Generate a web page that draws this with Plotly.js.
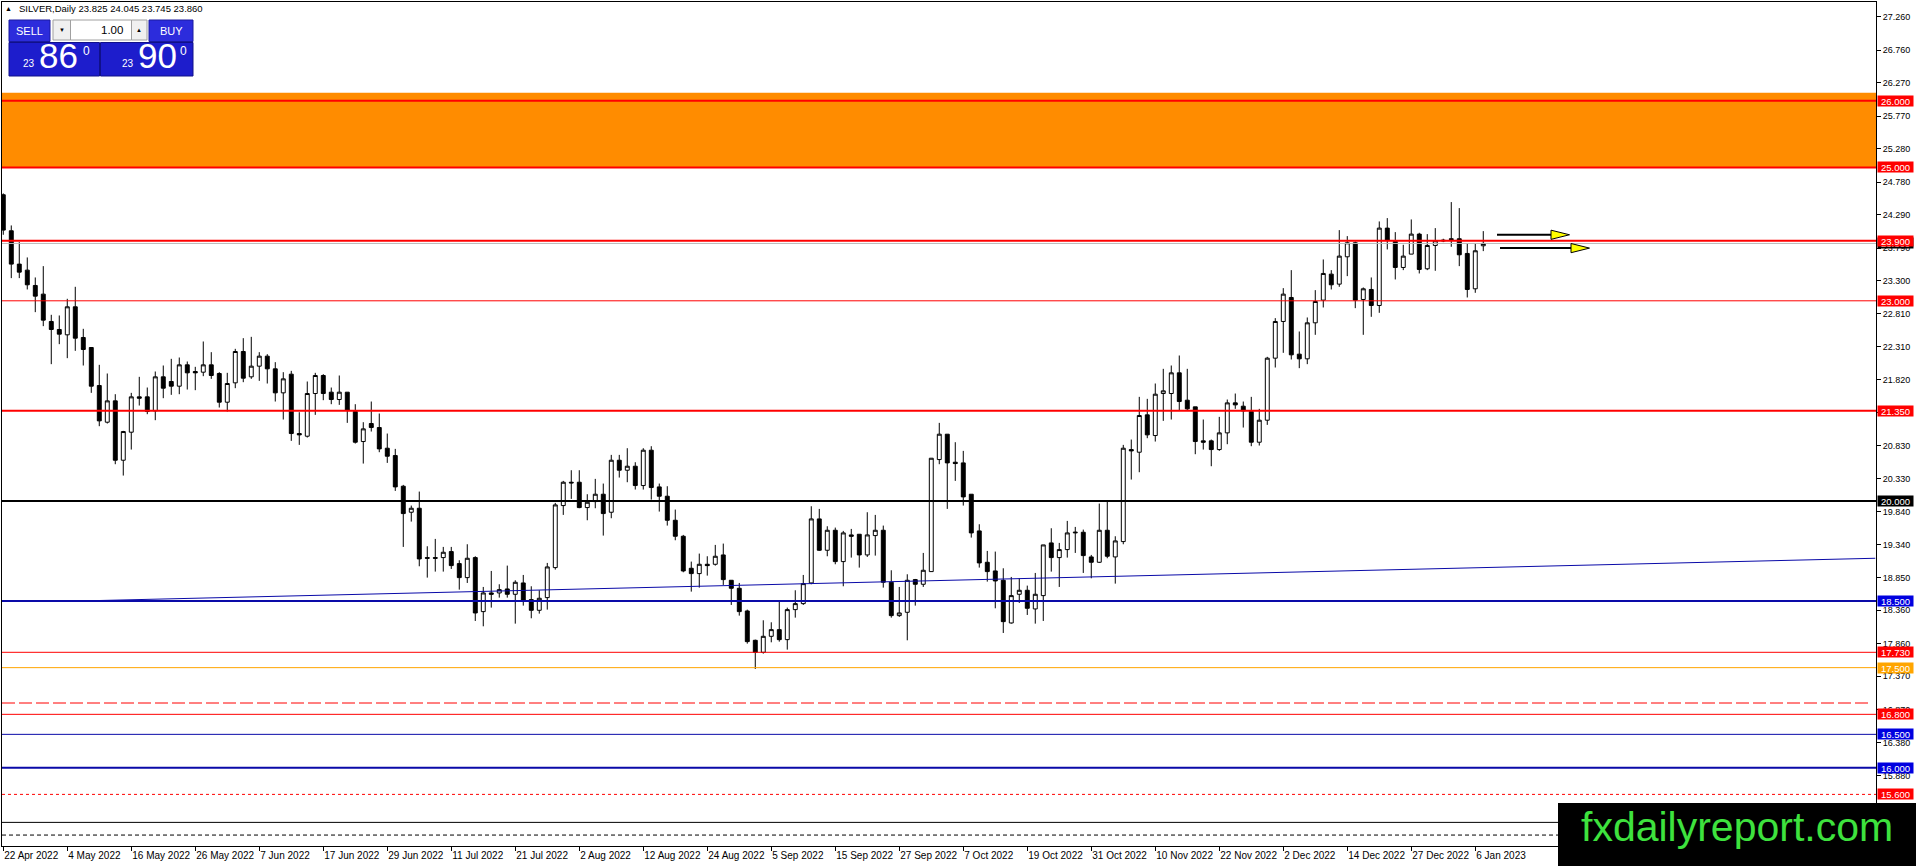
<!DOCTYPE html>
<html><head><meta charset="utf-8">
<script src="https://cdn.plot.ly/plotly-3.0.1.min.js"></script>
<style>html,body{margin:0;padding:0;background:#fff;overflow:hidden}#chart{width:1916px;height:866px}</style>
</head><body><div id="chart"></div>
<script>
// ---------- DATA ----------
const symbolTitle = 'SILVER,Daily';
const lastOHLC = [23.825, 24.045, 23.745, 23.860];
const openP = [24.59,24.05,23.55,23.46,23.23,23.10,22.69,22.57,22.49,22.91,22.45,22.30,21.73,21.18,21.50,20.61,21.03,21.56,21.56,21.35,21.86,21.79,21.72,22.04,21.94,21.93,22.04,21.91,21.48,21.77,
22.24,21.86,22.02,22.17,21.98,21.62,21.90,21.01,20.97,21.61,21.88,21.63,21.52,21.63,21.34,20.89,21.16,21.10,20.79,20.68,20.22,19.83,19.89,19.15,19.15,19.15,19.24,19.06,18.85,19.15,
18.34,18.62,18.62,18.68,18.60,18.77,18.52,18.36,18.55,19.00,19.93,20.28,20.28,19.90,19.99,20.10,19.83,20.61,20.46,20.52,20.23,20.76,20.21,20.07,19.71,19.47,18.99,18.91,19.05,19.05,
19.19,18.81,18.69,18.35,17.91,17.73,17.97,18.07,17.92,18.37,18.46,18.77,19.73,19.26,19.56,19.09,19.49,19.50,19.19,19.48,19.56,18.78,18.28,18.33,18.82,18.75,18.94,20.62,21.00,20.58,
20.57,20.10,19.55,19.08,18.95,18.81,18.17,18.60,18.66,18.38,18.58,19.37,19.15,19.27,19.52,19.53,19.16,19.08,19.56,19.16,19.39,20.77,20.73,21.29,20.98,21.61,21.61,21.92,21.51,21.41,
20.90,20.90,20.77,21.02,21.47,21.42,21.34,20.88,21.21,22.14,22.69,23.05,22.20,22.13,22.67,23.01,23.40,23.25,23.66,23.87,23.02,23.17,22.93,24.09,23.89,23.50,23.70,24.00,23.48,23.83,
23.91,23.93,23.93,23.71,23.18,23.825];
const highP = [24.61,24.13,23.88,23.65,23.35,23.52,22.79,22.78,23.03,23.21,22.58,22.30,22.04,21.91,21.60,21.05,21.62,21.86,21.70,21.94,22.03,22.13,22.15,22.09,22.01,22.39,22.23,21.93,21.92,22.28,
22.44,22.46,22.23,22.20,22.08,21.93,21.95,21.33,21.79,21.92,21.90,21.70,21.88,21.63,21.45,21.18,21.49,21.31,21.01,20.78,20.24,19.93,20.14,19.32,19.43,19.31,19.31,19.11,19.35,19.17,
18.71,18.95,18.75,19.03,18.81,18.89,18.72,18.66,19.07,19.97,20.30,20.46,20.46,20.10,20.33,20.26,20.69,20.69,20.79,20.58,20.79,20.82,20.26,20.22,19.87,19.49,19.09,19.21,19.17,19.34,
19.36,18.81,18.77,18.37,17.92,18.21,18.18,18.50,18.40,18.66,18.89,19.92,19.88,19.62,19.60,19.55,19.58,19.50,19.83,19.79,19.63,18.96,18.71,18.90,18.83,19.22,20.64,21.17,21.00,20.88,
20.75,20.10,19.65,19.25,19.24,18.99,18.86,18.84,18.73,18.92,19.34,19.59,19.37,19.70,19.61,19.57,19.19,19.96,20.01,19.47,20.84,20.92,21.56,21.53,21.76,21.98,22.03,22.18,21.98,21.41,
21.22,20.92,21.26,21.52,21.61,21.49,21.56,21.38,22.16,22.74,23.19,23.46,22.54,22.75,23.16,23.62,23.46,24.06,23.97,23.89,23.20,23.35,24.19,24.24,24.03,23.84,24.22,24.02,24.00,24.09,
23.93,24.48,24.39,23.86,23.86,24.045];
const lowP = [23.99,23.34,23.34,23.17,22.83,22.62,22.05,22.35,22.14,22.25,22.03,21.62,21.12,21.16,20.55,20.38,20.77,21.43,21.30,21.21,21.54,21.59,21.60,21.67,21.66,21.87,21.83,21.40,21.34,21.69,
21.78,21.83,21.80,21.76,21.49,21.22,20.90,20.84,20.95,21.29,21.51,21.45,21.44,21.17,20.86,20.56,21.04,20.73,20.57,20.15,19.31,19.69,19.02,18.85,18.94,18.94,18.98,18.67,18.77,18.20,
18.12,18.40,18.55,18.55,18.16,18.43,18.24,18.31,18.37,18.97,19.79,20.03,19.89,19.71,19.89,19.48,19.74,20.35,20.28,20.17,20.17,20.02,19.84,19.63,19.41,18.93,18.64,18.70,18.88,19.03,
18.74,18.44,18.28,17.86,17.48,17.71,17.88,17.89,17.77,18.25,18.44,18.75,19.25,19.17,19.05,18.72,19.15,19.00,19.16,19.18,18.70,18.25,18.26,17.91,18.43,18.71,18.94,20.55,19.88,20.30,
19.93,19.45,19.00,18.79,18.39,18.02,18.16,18.47,18.29,18.16,18.20,18.94,18.71,19.15,19.22,18.92,18.84,19.07,19.14,18.76,19.35,20.32,20.43,20.94,20.89,21.20,21.22,21.35,21.35,20.70,
20.77,20.52,20.75,20.85,21.38,21.10,20.82,20.83,21.14,22.00,22.22,22.12,21.99,22.05,22.49,22.90,23.17,23.21,23.37,22.89,22.49,22.76,22.82,23.77,23.32,23.46,23.70,23.41,23.46,23.45,
23.88,23.81,23.52,23.05,23.12,23.745];
const closeP = [24.06,23.55,23.43,23.24,23.07,22.71,22.57,22.50,22.91,22.44,22.27,21.72,21.20,21.50,20.61,21.04,21.56,21.54,21.34,21.86,21.69,21.72,22.04,21.92,21.92,22.04,21.88,21.48,21.76,22.24,
21.84,22.02,22.17,21.98,21.62,21.83,21.01,20.99,21.61,21.88,21.61,21.52,21.63,21.36,20.88,21.08,21.10,20.78,20.67,20.21,19.81,19.89,19.13,19.14,19.14,19.23,19.03,18.85,19.14,18.32,
18.62,18.60,18.67,18.60,18.78,18.50,18.36,18.54,19.01,19.94,20.28,20.27,19.90,19.98,20.10,19.81,20.61,20.46,20.52,20.23,20.76,20.20,20.07,19.71,19.47,18.95,18.91,19.05,19.03,19.17,
18.82,18.69,18.34,17.89,17.73,17.97,18.07,17.92,18.37,18.46,18.76,19.73,19.26,19.56,19.09,19.52,19.47,19.19,19.49,19.56,18.78,18.28,18.32,18.81,18.75,18.96,20.64,21.00,20.57,20.56,
20.06,19.52,19.07,18.94,18.80,18.19,18.58,18.66,18.39,18.60,19.34,19.15,19.27,19.52,19.53,19.18,19.08,19.56,19.17,19.40,20.79,20.75,21.28,20.99,21.60,21.65,21.92,21.49,21.38,20.89,
20.88,20.77,21.02,21.47,21.44,21.35,20.88,21.21,22.14,22.69,23.10,22.19,22.13,22.67,22.99,23.41,23.24,23.67,23.87,23.01,23.18,22.93,24.09,23.91,23.50,23.67,24.00,23.47,23.83,23.90,
23.90,23.92,23.69,23.17,23.75,23.860];
const barsPerLabel = 8;
const dateLabels = ['22 Apr 2022','4 May 2022','16 May 2022','26 May 2022','7 Jun 2022','17 Jun 2022','29 Jun 2022','11 Jul 2022',
  '21 Jul 2022','2 Aug 2022','12 Aug 2022','24 Aug 2022','5 Sep 2022','15 Sep 2022','27 Sep 2022','7 Oct 2022','19 Oct 2022',
  '31 Oct 2022','10 Nov 2022','22 Nov 2022','2 Dec 2022','14 Dec 2022','27 Dec 2022','6 Jan 2023'];
const priceTicks = [27.26,26.76,26.27,25.77,25.28,24.78,24.29,23.79,23.30,22.81,22.31,21.82,21.33,20.83,20.33,19.84,19.34,18.85,18.36,17.86,17.37,16.87,16.38,15.88];
const levelPrices = [26.000,25.000,23.900,23.000,21.350,20.000,18.500,17.730,17.500,16.800,16.500,16.000,15.600];
const zonePrices = [25.000, 26.120];
const bidPrice = 23.860;
const extraLevels = [16.97, 15.18, 14.99];
const trendBars = [8, 234];
const trendPrices = [18.495, 19.14];
const sellPrice = ['23', '86', '0'];
const buyPrice = ['23', '90', '0'];
const lotSize = '1.00';
const arrowPrices = [23.99, 23.79];

// ---------- STYLES ----------
const FONT = 'Liberation Sans, Arial, sans-serif';
const RED = '#ff0000', BLUE_L = '#0a0aa8', BLUE_B = '#0000e0', ORANGE = '#ffa500';
const levelStyle = [
  {c:RED,w:2,b:RED},{c:RED,w:2,b:RED},{c:RED,w:2,b:RED},{c:RED,w:1,b:RED},{c:RED,w:2,b:RED},
  {c:'#000',w:2,b:'#000'},{c:BLUE_L,w:2,b:BLUE_B},{c:RED,w:1,b:RED},{c:ORANGE,w:1,b:ORANGE},
  {c:RED,w:1,b:RED},{c:BLUE_L,w:1,b:BLUE_B},{c:BLUE_L,w:2,b:BLUE_B},{c:RED,w:1,b:RED,d:'dot'}];
const extraStyle = [{c:RED,w:1,d:'13px,4px',x1:1869},{c:'#000',w:1,d:'solid'},{c:'#000',w:1,d:'4px,3px'}];

const W=1916,H=866,ML=2,MR=40,MT=2,MB=20;
const PW=W-ML-MR, PH=H-MT-MB;
const px=v=>(v-ML)/PW, py=v=>(H-MB-v)/PH;
const X0=-0.16, X1=X0+PW/8;
const Y0=14.826, Y1=27.48;

const idx = openP.map((_,i)=>i);
const traces = [{
  type:'candlestick', x:idx, open:openP, high:highP, low:lowP, close:closeP,
  increasing:{line:{color:'#000',width:1},fillcolor:'#ffffff'},
  decreasing:{line:{color:'#000',width:1},fillcolor:'#000000'},
  whiskerwidth:0, hoverinfo:'skip', showlegend:false
}];

const shapes = [];
shapes.push({type:'rect',xref:'paper',yref:'y',x0:0,x1:1,y0:zonePrices[0],y1:zonePrices[1],fillcolor:'#ff8c00',line:{width:0},layer:'below'});
shapes.push({type:'line',xref:'paper',yref:'y',x0:0,x1:1,y0:bidPrice,y1:bidPrice,line:{color:'#b8b8b8',width:1},layer:'above'});
extraLevels.forEach((p,i)=>{const s=extraStyle[i];
  shapes.push({type:'line',xref:'paper',yref:'y',x0:0,x1:s.x1?px(s.x1):1,y0:p,y1:p,line:{color:s.c,width:s.w,dash:s.d},layer:'above'});});
levelPrices.forEach((p,i)=>{const s=levelStyle[i];
  shapes.push({type:'line',xref:'paper',yref:'y',x0:0,x1:1,y0:p,y1:p,line:{color:s.c,width:s.w,dash:s.d||'solid'},layer:'above'});});
shapes.push({type:'line',xref:'x',yref:'y',x0:trendBars[0],x1:trendBars[1],y0:trendPrices[0],y1:trendPrices[1],line:{color:BLUE_L,width:1},layer:'above'});

// arrows (pixel-placed objects at price levels)
const arrowGeom=[{x0:1497,tip:1551},{x0:1500,tip:1571}];
arrowPrices.forEach((p,i)=>{const g=arrowGeom[i];
  shapes.push({type:'line',xref:'paper',yref:'y',x0:px(g.x0),x1:px(g.tip+2),y0:p,y1:p,line:{color:'#000',width:2}});
  const yc=100.7+(26-p)*66.7;
  shapes.push({type:'path',xref:'paper',yref:'paper',
    path:`M ${px(g.tip)} ${py(yc-4.6)} L ${px(g.tip+18.5)} ${py(yc)} L ${px(g.tip)} ${py(yc+4.6)} Z`,
    fillcolor:'#ffff00',line:{color:'#000',width:1}});
});

// trade panel
function rectPx(x0,y0,x1,y1,fill,line){shapes.push({type:'rect',xref:'paper',yref:'paper',x0:px(x0),x1:px(x1),y0:py(y1),y1:py(y0),fillcolor:fill,line:line||{width:0},layer:'above'});}
rectPx(9,20,50,41.5,'#2c2cdc',{color:'#1a1aa0',width:1});
rectPx(149,20,193,41.5,'#2c2cdc',{color:'#1a1aa0',width:1});
rectPx(53,20,70.5,40,'#f0f0f0',{color:'#a0a0a0',width:1});
rectPx(70.5,20,131.5,40,'#ffffff',{color:'#a0a0a0',width:1});
rectPx(131.5,20,147,40,'#f0f0f0',{color:'#a0a0a0',width:1});
rectPx(9,42.5,99.5,76,'#1d1dcc',{color:'#10108a',width:1});
rectPx(100.5,42.5,193,76,'#1d1dcc',{color:'#10108a',width:1});

const ann = [];
function txt(x,y,t,size,color,xa,fam){ann.push({xref:'paper',yref:'paper',x:px(x),y:py(y),text:t,showarrow:false,xanchor:xa||'center',yanchor:'middle',font:{family:fam||FONT,size:size,color:color}});}
txt(8.5,8.5,'▲',7,'#000');
txt(17,8.5,symbolTitle+' '+lastOHLC.map(v=>v.toFixed(3)).join(' '),9.5,'#000','left');
txt(29.5,31,'SELL',11,'#fff','center','Liberation Sans Narrow, Liberation Sans, Arial');
txt(171,31,'BUY',11,'#fff','center','Liberation Sans Narrow, Liberation Sans, Arial');
txt(61.7,30,'▼',6,'#000');
txt(139.2,30,'▲',6,'#000');
txt(125,30,lotSize,11.5,'#000','right');
txt(29,63.5,sellPrice[0],10,'#fff');
txt(58,55.5,sellPrice[1],35,'#fff');
txt(86,50.5,sellPrice[2],12,'#fff');
txt(128,63.5,buyPrice[0],10,'#fff');
txt(157.5,55.5,buyPrice[1],35,'#fff');
txt(183.5,50.5,buyPrice[2],12,'#fff');

// axis level labels
function lvlLabel(p,bg){ann.push({xref:'paper',yref:'y',x:1,y:p,xanchor:'left',yanchor:'middle',xshift:1,text:p.toFixed(3),showarrow:false,
  bgcolor:bg,borderpad:0,width:35,height:10,font:{family:FONT,size:9.5,color:'#fff'}});}
lvlLabel(bidPrice,'#000');
levelPrices.forEach((p,i)=>lvlLabel(p,levelStyle[i].b));

// logo
rectPx(1558,803,1916,866,'#000000');
txt(1736.5,827,'fxdailyreport.com',41,'#3ee23e');

const layout = {
  width:W,height:H,margin:{l:ML,r:MR,t:MT,b:MB},paper_bgcolor:'#fff',plot_bgcolor:'#fff',
  showlegend:false,hovermode:false,dragmode:false,
  font:{family:FONT,size:10,color:'#000'},
  xaxis:{type:'linear',range:[X0,X1],showgrid:false,zeroline:false,showline:true,linecolor:'#000',linewidth:1,mirror:true,
    tickvals:dateLabels.map((_,i)=>i*barsPerLabel),ticktext:dateLabels,ticks:'outside',ticklen:4,tickcolor:'#000',tickangle:0,
    ticklabelposition:'outside right',tickfont:{family:FONT,size:10,color:'#000'},rangeslider:{visible:false},fixedrange:true},
  yaxis:{side:'right',range:[Y0,Y1],showgrid:false,zeroline:false,showline:true,linecolor:'#000',linewidth:1,mirror:true,
    tickvals:priceTicks,ticktext:priceTicks.map(v=>v.toFixed(3)),ticks:'outside',ticklen:4,tickcolor:'#000',
    tickfont:{family:FONT,size:9,color:'#000'},fixedrange:true},
  shapes:shapes, annotations:ann
};
Plotly.newPlot('chart',traces,layout,{displayModeBar:false,staticPlot:true});
</script></body></html>
